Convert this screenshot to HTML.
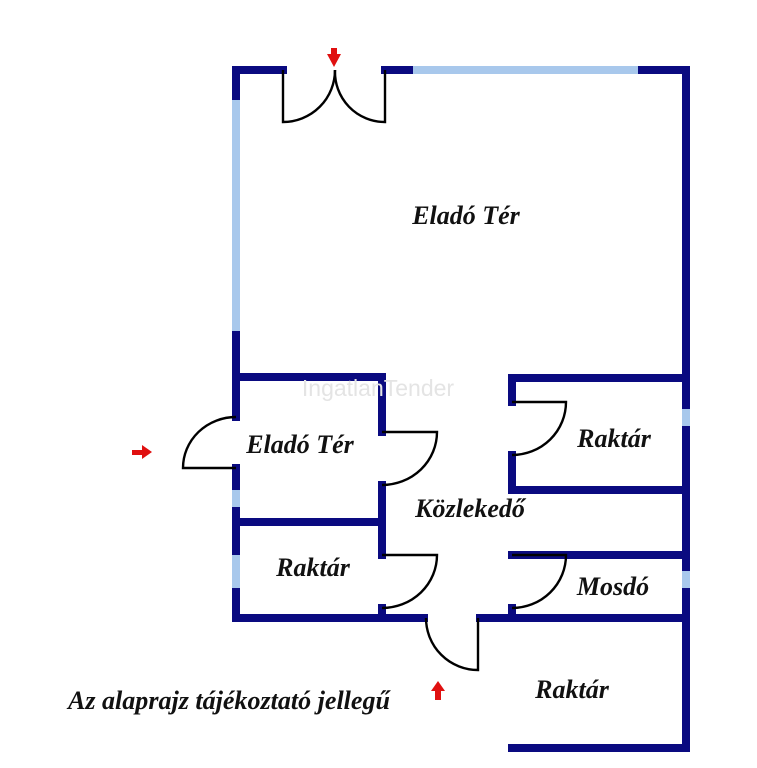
<!DOCTYPE html>
<html><head><meta charset="utf-8"><style>
html,body{margin:0;padding:0;background:#fff;}
svg{display:block}
text{font-family:"Liberation Serif",serif;font-weight:bold;font-style:italic;fill:#111;}
</style></head><body>
<svg width="757" height="768" viewBox="0 0 757 768" xmlns="http://www.w3.org/2000/svg">
<g stroke="#0a0a80" stroke-width="8" fill="none" stroke-linecap="square">
  <line x1="236" y1="70" x2="283" y2="70"/>
  <line x1="385" y1="70" x2="413" y2="70"/>
  <line x1="638" y1="70" x2="686" y2="70"/>
  <line x1="686" y1="70" x2="686" y2="409"/>
  <line x1="686" y1="426" x2="686" y2="571"/>
  <line x1="686" y1="588" x2="686" y2="748"/>
  <line x1="236" y1="70" x2="236" y2="100"/>
  <line x1="236" y1="331" x2="236" y2="417"/>
  <line x1="236" y1="468" x2="236" y2="490"/>
  <line x1="236" y1="507" x2="236" y2="555"/>
  <line x1="236" y1="588" x2="236" y2="618"/>
  <line x1="236" y1="377" x2="382" y2="377"/>
  <line x1="382" y1="377" x2="382" y2="432"/>
  <line x1="382" y1="485" x2="382" y2="555"/>
  <line x1="236" y1="522" x2="382" y2="522"/>
  <line x1="382" y1="608" x2="382" y2="618"/>
  <line x1="236" y1="618" x2="424" y2="618"/>
  <line x1="480" y1="618" x2="686" y2="618"/>
  <line x1="512" y1="378" x2="686" y2="378"/>
  <line x1="512" y1="378" x2="512" y2="402"/>
  <line x1="512" y1="455" x2="512" y2="490"/>
  <line x1="512" y1="490" x2="686" y2="490"/>
  <line x1="512" y1="555" x2="686" y2="555"/>
  <line x1="512" y1="608" x2="512" y2="618"/>
  <line x1="512" y1="748" x2="686" y2="748"/>
</g>
<g stroke="#a8c8ec" stroke-width="8" fill="none">
  <line x1="413" y1="70" x2="638" y2="70"/>
  <line x1="236" y1="100" x2="236" y2="331"/>
  <line x1="236" y1="490" x2="236" y2="507"/>
  <line x1="236" y1="555" x2="236" y2="588"/>
  <line x1="686" y1="409" x2="686" y2="426"/>
  <line x1="686" y1="571" x2="686" y2="588"/>
</g>
<g stroke="#000" stroke-width="2.4" fill="none">
  <path d="M283 70 V122 A52 52 0 0 0 335 70"/>
  <path d="M385 70 V122 A50 50 0 0 1 335 70"/>
  <path d="M236 468 H183 A53 51 0 0 1 236 417"/>
  <path d="M382 432 H437 A55 53 0 0 1 382 485"/>
  <path d="M382 555 H437 A55 53 0 0 1 382 608"/>
  <path d="M512 402 H566 A54 53 0 0 1 512 455"/>
  <path d="M512 555 H566 A54 53 0 0 1 512 608"/>
  <path d="M478 618 V670 A52 52 0 0 1 426 618"/>
</g>
<g fill="#e01010">
  <path d="M327 54 H341 L334 67 Z"/><rect x="331" y="48" width="6" height="8"/>
  <path d="M142 445 L152 452 L142 459 Z"/><rect x="132" y="450" width="11" height="5"/>
  <path d="M431 691 L438 681 L445 691 Z"/><rect x="435" y="690" width="6" height="10"/>
</g>
<text x="378" y="396" text-anchor="middle" style="font-family:'Liberation Sans',sans-serif;font-weight:normal;font-style:normal;fill:#e4e4e4;font-size:23px">IngatlanTender</text>
<g font-size="26">
<text x="466" y="224" text-anchor="middle">Eladó Tér</text>
<text x="300" y="453" text-anchor="middle">Eladó Tér</text>
<text x="614" y="447" text-anchor="middle">Raktár</text>
<text x="470" y="517" text-anchor="middle">Közlekedő</text>
<text x="313" y="576" text-anchor="middle">Raktár</text>
<text x="613" y="595" text-anchor="middle">Mosdó</text>
<text x="572" y="698" text-anchor="middle">Raktár</text>
<text x="68" y="709" textLength="322" lengthAdjust="spacingAndGlyphs">Az alaprajz tájékoztató jellegű</text>
</g>
</svg>
</body></html>
